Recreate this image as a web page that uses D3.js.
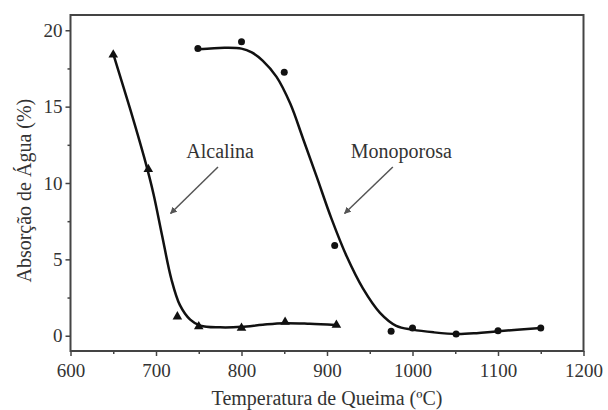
<!DOCTYPE html>
<html>
<head>
<meta charset="utf-8">
<script src="https://cdn.jsdelivr.net/npm/d3@7"></script>
<style>
  body { margin: 0; background: #fff; }
  svg text { font-family: "Liberation Serif", "Times New Roman", Tinos, Times, "DejaVu Serif", "Noto Serif", serif; fill: #333; }
</style>
</head>
<body>
<div id="chart"></div>
<script>
// Measured points (markers)
const alcalinaX = [650, 691, 725, 750, 800, 851, 911];
const alcalinaY = [18.4, 10.9, 1.25, 0.6, 0.5, 0.9, 0.7];
const monoX = [749, 800, 850, 909, 975, 1000, 1051, 1100, 1150];
const monoY = [18.8, 19.25, 17.25, 5.9, 0.3, 0.5, 0.12, 0.33, 0.5];

// Fitted curves
const alcalinaCurveX = [650, 670, 688, 697, 707, 718, 728, 740, 752, 775, 800, 825, 850, 880, 910];
const alcalinaCurveY = [18.45, 14.8, 11.3, 9.3, 6.6, 3.7, 2.0, 1.05, 0.65, 0.55, 0.58, 0.72, 0.82, 0.78, 0.7];
const monoCurveX = [750, 780, 800, 812, 825, 841, 857, 872, 888, 905, 923, 942, 962, 981, 1000, 1025, 1052, 1075, 1100, 1150];
const monoCurveY = [18.75, 18.85, 18.8, 18.55, 18.0, 16.95, 15.2, 12.9, 10.4, 7.7, 5.2, 3.1, 1.5, 0.65, 0.4, 0.22, 0.11, 0.17, 0.3, 0.5];

const xTicks = [600, 700, 800, 900, 1000, 1100, 1200];
const xMinor = [650, 750, 850, 950, 1050, 1150];
const yTicks = [0, 5, 10, 15, 20];
const yMinor = [2.5, 7.5, 12.5, 17.5];

const width = 608, height = 410;
const svg = d3.select("#chart").append("svg")
  .attr("width", width)
  .attr("height", height);

const x = d3.scaleLinear().domain([600, 1200]).range([70.5, 583.5]);
const y = d3.scaleLinear().domain([-1, 21]).range([351, 15]);

const axisColor = "#444";

// x axis (major + minor ticks)
svg.append("g")
   .attr("transform", `translate(0,${y(-1)})`)
   .call(d3.axisBottom(x).tickValues(xMinor).tickSize(3).tickFormat(""))
   .call(g => g.select(".domain").remove())
   .call(g => g.selectAll("line").attr("stroke", axisColor).attr("stroke-width", 1.5));

svg.append("g")
   .attr("transform", `translate(0,${y(-1)})`)
   .call(d3.axisBottom(x).tickValues(xTicks).tickSize(5).tickPadding(8).tickFormat(d3.format("d")))
   .call(g => g.select(".domain").remove())
   .call(g => g.selectAll("line").attr("stroke", axisColor).attr("stroke-width", 1.5))
   .call(g => g.selectAll("text").attr("font-size", 19).attr("fill", "#333"));

// y axis
svg.append("g")
   .attr("transform", `translate(${x(600)},0)`)
   .call(d3.axisLeft(y).tickValues(yMinor).tickSize(3).tickFormat(""))
   .call(g => g.select(".domain").remove())
   .call(g => g.selectAll("line").attr("stroke", axisColor).attr("stroke-width", 1.5));

svg.append("g")
   .attr("transform", `translate(${x(600)},0)`)
   .call(d3.axisLeft(y).tickValues(yTicks).tickSize(5).tickPadding(3))
   .call(g => g.select(".domain").remove())
   .call(g => g.selectAll("line").attr("stroke", axisColor).attr("stroke-width", 1.5))
   .call(g => g.selectAll("text").attr("font-size", 19).attr("fill", "#333"));

// frame
svg.append("rect")
   .attr("x", x(600))
   .attr("y", y(21))
   .attr("width", x(1200) - x(600))
   .attr("height", y(-1) - y(21))
   .attr("fill", "none")
   .attr("stroke", axisColor)
   .attr("stroke-width", 2);

// axis titles
svg.append("text")
   .attr("x", (x(600) + x(1200)) / 2)
   .attr("y", 405)
   .attr("text-anchor", "middle")
   .attr("font-size", 20)
   .text("Temperatura de Queima (ºC)");

svg.append("text")
   .attr("transform", `translate(31,${y(9.5)}) rotate(-90)`)
   .attr("text-anchor", "middle")
   .attr("font-size", 20)
   .text("Absorção de Água (%)");

// curves
const line = d3.line()
  .x(d => x(d[0]))
  .y(d => y(d[1]))
  .curve(d3.curveCatmullRom.alpha(0.5));

svg.append("path")
   .datum(d3.zip(alcalinaCurveX, alcalinaCurveY))
   .attr("d", line)
   .attr("fill", "none")
   .attr("stroke", "#111")
   .attr("stroke-width", 2.5);

svg.append("path")
   .datum(d3.zip(monoCurveX, monoCurveY))
   .attr("d", line)
   .attr("fill", "none")
   .attr("stroke", "#111")
   .attr("stroke-width", 2.5);

// markers
svg.append("g")
   .selectAll("path")
   .data(d3.zip(alcalinaX, alcalinaY))
   .join("path")
     .attr("transform", d => `translate(${x(d[0])},${y(d[1])})`)
     .attr("d", d3.symbol(d3.symbolTriangle, 40))
     .attr("fill", "#111");

svg.append("g")
   .selectAll("circle")
   .data(d3.zip(monoX, monoY))
   .join("circle")
     .attr("cx", d => x(d[0]))
     .attr("cy", d => y(d[1]))
     .attr("r", 3.5)
     .attr("fill", "#111");

// annotations with arrows
svg.append("defs").append("marker")
   .attr("id", "arrow")
   .attr("viewBox", "0 0 10 10")
   .attr("refX", 9)
   .attr("refY", 5)
   .attr("markerWidth", 7)
   .attr("markerHeight", 7)
   .attr("markerUnits", "userSpaceOnUse")
   .attr("orient", "auto")
   .append("path")
     .attr("d", "M0,0 L10,5 L0,10 z")
     .attr("fill", "#555");

const notes = [
  { label: "Alcalina", tx: 775, ty: 11.63, x1: 772.5, y1: 11.05, x2: 717, y2: 8.0 },
  { label: "Monoporosa", tx: 987, ty: 11.63, x1: 977, y1: 11.05, x2: 920.5, y2: 8.0 }
];

notes.forEach(n => {
  svg.append("text")
     .attr("x", x(n.tx))
     .attr("y", y(n.ty))
     .attr("text-anchor", "middle")
     .attr("font-size", 20)
     .text(n.label);
  svg.append("line")
     .attr("x1", x(n.x1)).attr("y1", y(n.y1))
     .attr("x2", x(n.x2)).attr("y2", y(n.y2))
     .attr("stroke", "#555")
     .attr("stroke-width", 1.5)
     .attr("marker-end", "url(#arrow)");
});
</script>
</body>
</html>
